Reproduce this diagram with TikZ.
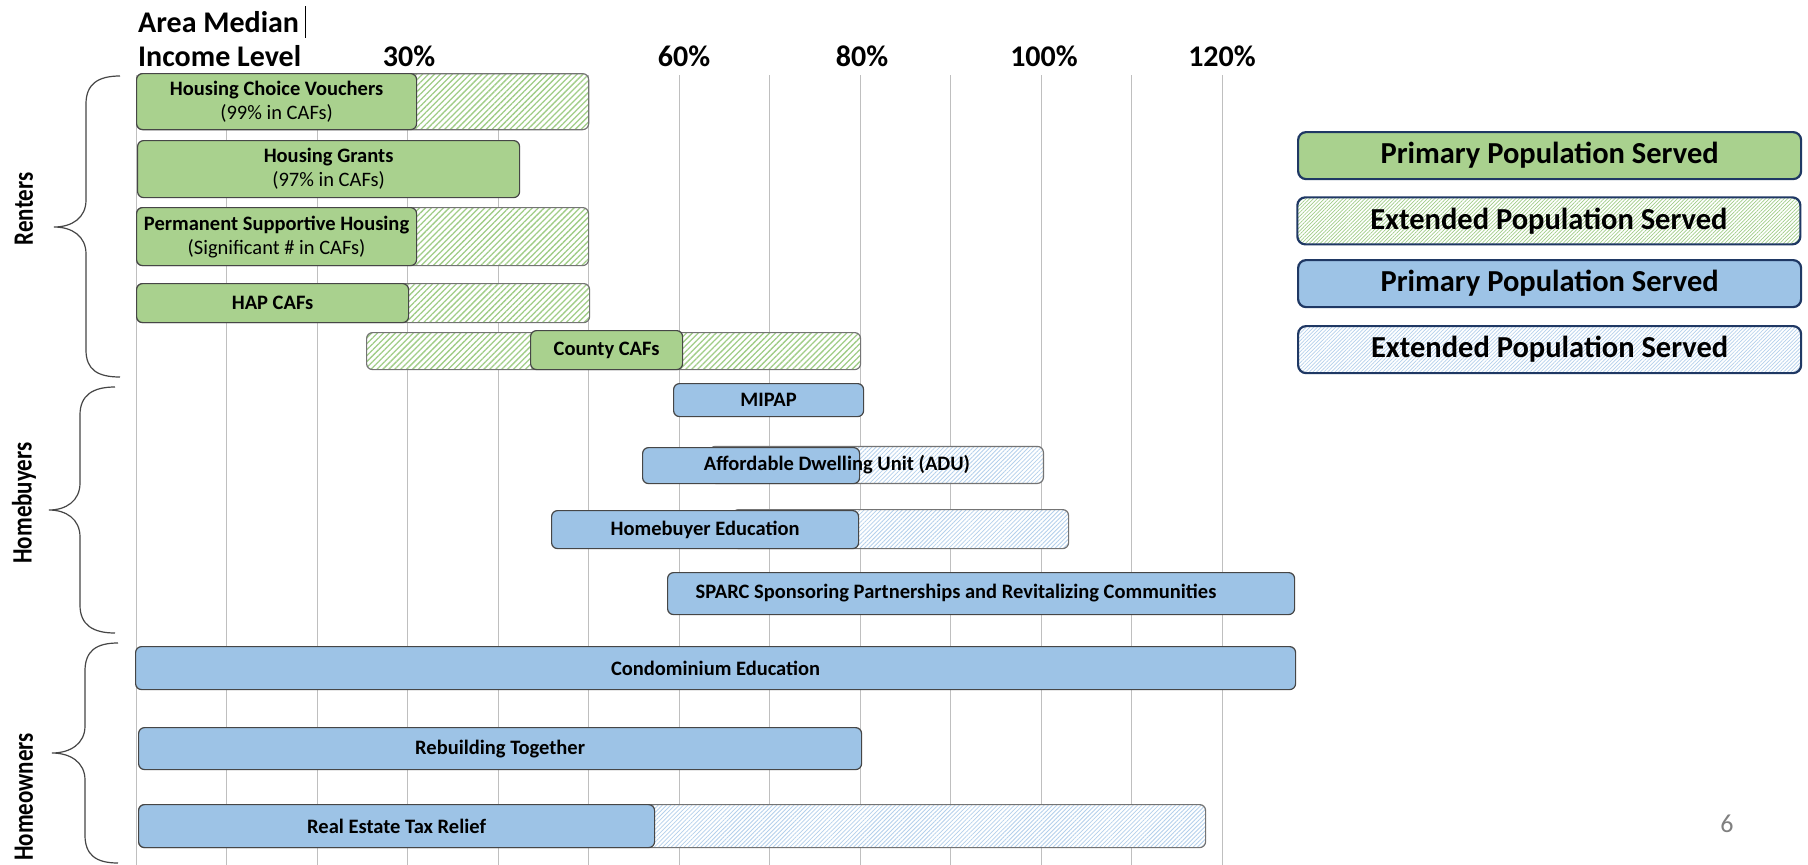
\documentclass[tikz,border=0pt]{standalone}
\usepackage{fontspec}
\usepackage{graphicx}
\setmainfont{Carlito}
\usetikzlibrary{patterns.meta}

\definecolor{primgreen}{RGB}{169,209,142}
\definecolor{hatchgreen}{RGB}{160,205,135}
\definecolor{primblue}{RGB}{157,195,230}
\definecolor{hatchblue}{RGB}{180,208,236}
\definecolor{navy}{RGB}{31,56,100}
\definecolor{barline}{RGB}{70,70,70}
\definecolor{gridgray}{RGB}{191,191,191}

\newcommand\barfont{\bfseries\fontsize{20.5}{24}\selectfont}
\newcommand\legendfont{\bfseries\fontsize{30.5}{36}\selectfont}
\newcommand\axisfont{\bfseries\fontsize{30}{35}\selectfont}
\newcommand\groupfont{\bfseries\fontsize{23}{27}\selectfont}
\newcommand\tallgroup[1]{\scalebox{1}[1.22]{#1}}

\tikzset{
  barbox/.style={draw=barline, line width=1.2pt, rounded corners=6pt, anchor=north west,
    inner sep=0pt, align=center, font=\barfont},
  primg/.style={barbox, fill=primgreen},
  primb/.style={barbox, fill=primblue},
  extg/.style={barbox, draw=barline!75, preaction={fill=white},
    pattern={Lines[angle=45,distance=4.2pt,line width=1.3pt]}, pattern color=hatchgreen},
  extb/.style={barbox, draw=barline!75, preaction={fill=white},
    pattern={Lines[angle=45,distance=3pt,line width=0.8pt]}, pattern color=hatchblue},
  barlabel/.style={font=\barfont, inner sep=0pt},
  legendbox/.style={draw=navy, line width=2.2pt, rounded corners=8pt, minimum width=503pt,
    minimum height=47pt, anchor=north west, inner sep=0pt, font=\legendfont},
  legendhatch/.style={preaction={fill=white}, pattern={Lines[angle=45,distance=2.6pt,line width=0.7pt]}},
  axislabel/.style={font=\axisfont, anchor=base, inner sep=0pt},
  grouplabel/.style={font=\groupfont, rotate=90, inner sep=0pt},
  gridline/.style={draw=gridgray, line width=1pt},
  bracket/.style={draw=barline, line width=1.2pt}
}

\begin{document}
\begin{tikzpicture}[x=1pt, y=-1pt]
  \fill[white] (0,0) rectangle (1808,865);
  \useasboundingbox (0,0) rectangle (1808,865);

  \foreach \i in {0,...,12}
    \draw[gridline] ({136+90.5*\i},75) -- ({136+90.5*\i},865);

  \node[axislabel, anchor=base west] (amlone) at (138,32) {Area Median};
  \node[axislabel, anchor=base west] (amltwo) at (138,66) {Income Level};
  \draw[line width=0.8pt] (305,6) -- (305,38);
  \node[axislabel] (pthirty) at (409,66) {30\%};
  \node[axislabel] (psixty) at (684,66) {60\%};
  \node[axislabel] (peighty) at (862,66) {80\%};
  \node[axislabel] (phundred) at (1044,66) {100\%};
  \node[axislabel] (ptwenty) at (1222,66) {120\%};

  \node[extg, minimum width=452pt, minimum height=56pt] (hcvx) at (136,73) {};
  \node[primg, minimum width=280pt, minimum height=56pt] (hcv) at (136,73)
    {Housing Choice Vouchers\\{\mdseries (99\% in CAFs)}};
  \node[primg, minimum width=382pt, minimum height=57pt] (hg) at (137,140)
    {Housing Grants\\{\mdseries (97\% in CAFs)}};
  \node[extg, minimum width=452pt, minimum height=58pt] (pshx) at (136,207) {};
  \node[primg, minimum width=280pt, minimum height=58pt] (psh) at (136,207)
    {Permanent Supportive Housing\\{\mdseries (Significant \# in CAFs)}};
  \node[extg, minimum width=453pt, minimum height=39pt] (hapx) at (136,283) {};
  \node[primg, minimum width=272pt, minimum height=39pt] (hap) at (136,283) {HAP CAFs};
  \node[extg, minimum width=494pt, minimum height=37pt] (countyx) at (366,332) {};
  \node[primg, minimum width=152pt, minimum height=39pt] (county) at (530,330) {County CAFs};

  \node[primb, minimum width=190pt, minimum height=33pt] (mipap) at (673,383) {MIPAP};
  \node[extb, minimum width=334pt, minimum height=37pt] (adux) at (709,446) {};
  \node[primb, minimum width=217pt, minimum height=36pt] (adu) at (642,447) {};
  \node[barlabel] (adutext) at (837,465) {Affordable Dwelling Unit (ADU)};
  \node[extb, minimum width=336pt, minimum height=39pt] (hex) at (732,509) {};
  \node[primb, minimum width=307pt, minimum height=38pt] (he) at (551,510) {Homebuyer Education};
  \node[primb, minimum width=627pt, minimum height=42pt] (sparc) at (667,572) {};
  \node[barlabel] (sparctext) at (956,593) {SPARC Sponsoring Partnerships and Revitalizing Communities};

  \node[primb, minimum width=1160pt, minimum height=43pt] (condo) at (135,646) {Condominium Education};
  \node[primb, minimum width=723pt, minimum height=42pt] (rebuild) at (138,727) {Rebuilding Together};
  \node[extb, minimum width=1067pt, minimum height=43pt] (retrx) at (138,804) {};
  \node[primb, minimum width=516pt, minimum height=43pt] (retr) at (138,804) {Real Estate Tax Relief};

  \node[legendbox, fill=primgreen] (leggp) at (1297,131) {Primary Population Served};
  \node[legendbox, legendhatch, pattern color=hatchgreen] (legge) at (1297,197) {Extended Population Served};
  \node[legendbox, fill=primblue] (legbp) at (1297,259) {Primary Population Served};
  \node[legendbox, legendhatch, pattern color=hatchblue] (legbe) at (1297,325) {Extended Population Served};

  \draw[bracket] (120,76) .. controls (98,76) and (86,84) .. (86,104) -- (86,200)
    .. controls (86,218) and (72,227) .. (54,227) .. controls (72,227) and (86,236) .. (86,254)
    -- (86,350) .. controls (86,370) and (98,377) .. (120,377);
  \draw[bracket] (115,387) .. controls (93,387) and (80,395) .. (80,415) -- (80,483)
    .. controls (80,501) and (66,510) .. (49,510) .. controls (66,510) and (80,519) .. (80,537)
    -- (80,605) .. controls (80,625) and (93,633) .. (115,633);
  \draw[bracket] (118,643) .. controls (96,643) and (85,651) .. (85,671) -- (85,726)
    .. controls (85,744) and (70,753) .. (52,753) .. controls (70,753) and (85,762) .. (85,780)
    -- (85,835) .. controls (85,855) and (96,863) .. (118,863);

  \node[grouplabel] (renters) at (24,209) {\tallgroup{Renters}};
  \node[grouplabel] (buyers) at (24,503) {\tallgroup{Homebuyers}};
  \node[grouplabel] (owners) at (24,797) {\tallgroup{Homeowners}};

  \node[font=\fontsize{26}{30}\selectfont, text=gray, anchor=base, inner sep=0pt] (pagenum) at (1727,832) {6};
\end{tikzpicture}
\end{document}
